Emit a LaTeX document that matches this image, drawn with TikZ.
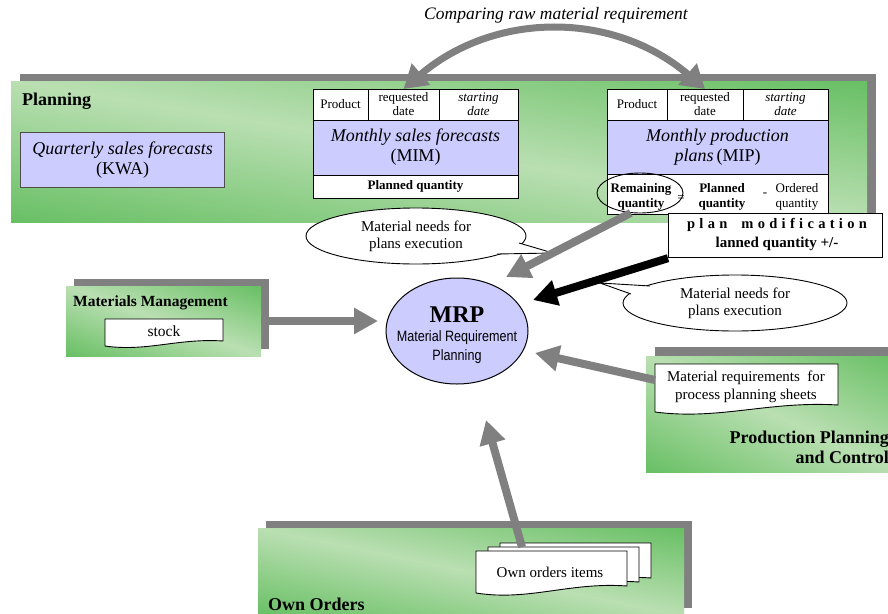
\documentclass[tikz,border=0pt]{standalone}
\usepackage{fontspec}
\setmainfont{Liberation Serif}
\newfontfamily\arialf{Liberation Sans}
\usetikzlibrary{arrows.meta,shapes.geometric,calc}

\definecolor{shadegray}{RGB}{128,128,128}
\definecolor{lav}{RGB}{204,204,255}

% green panel fill: light along the top-left/bottom-right diagonal,
% deeper green towards the bottom-left and top-right corners
\pgfdeclarefunctionalshading{gpanel}{\pgfpointorigin}{\pgfpoint{100bp}{100bp}}{}{%
  add 100 sub 50 div abs dup 1 gt {pop 1} if
  dup -0.322 mul 0.729 add exch
  dup -0.125 mul 0.875 add exch
  -0.306 mul 0.698 add }

% wavy-bottom document outline around a named node; #2 = rise of the right corner
\newcommand\docshape[2]{%
  \draw[docline] (#1.north west) -- (#1.north east) -- ([yshift=#2]#1.south east)
    .. controls ($(#1.south west)!0.62!(#1.south east)+(0pt,1.6*#2)$)
       and ($(#1.south west)!0.35!(#1.south east)+(0pt,-1.2*#2)$) .. (#1.south west) -- cycle;}
\newcommand\ls{\kern4.3pt}

\begin{document}
\begin{tikzpicture}[x=1pt,y=-1pt,
  panel/.style={anchor=north west, inner sep=0pt, outer sep=0pt,
    shade, shading=gpanel, shading angle=0},
  cell/.style={draw=black, line width=0.8pt, fill=white, inner sep=1pt, outer sep=0pt,
    anchor=north west, align=center, font=\fontsize{13}{14}\selectfont},
  bigtxt/.style={font=\fontsize{18}{20}\selectfont},
  docbox/.style={anchor=north west, inner sep=0pt, outer sep=0pt},
  docline/.style={draw=black, line width=0.9pt, fill=white},
  bubble/.style={ellipse, draw=black, line width=0.9pt, fill=white, inner sep=0pt,
    align=center, font=\fontsize{15}{17}\selectfont},
  garrow/.style={draw=shadegray, line width=8pt, -{Triangle[length=24pt,width=25pt]}},
  barrow/.style={draw=black, line width=8pt, -{Triangle[length=24pt,width=25pt]}},
  carrow/.style={draw=shadegray, line width=7pt,
    {Triangle[length=23pt,width=27pt]}-{Triangle[length=23pt,width=27pt]}},
  paneltitle/.style={inner sep=0pt, font=\bfseries\fontsize{18}{20}\selectfont}
]
\useasboundingbox (0,0) rectangle (888,613);
\clip (0,0) rectangle (888,613);

% ---------- panel shadows ----------
\fill[shadegray] (20,74) rectangle (876,215);
\fill[shadegray] (74,279) rectangle (269,349);
\fill[shadegray] (655,347) rectangle (909,463);
\fill[shadegray] (266,521) rectangle (692,608);

% ---------- panels ----------
\node[panel, minimum width=856pt, minimum height=141pt] (planning) at (11,81) {};
\node[panel, minimum width=195pt, minimum height=70pt] (mm) at (66,286) {};
\node[panel, minimum width=254pt, minimum height=116pt] (ppc) at (646,356) {};
\node[panel, minimum width=426pt, minimum height=88pt] (own) at (258,528) {};

\node[paneltitle, anchor=base west] (tplan) at (22,105) {Planning};
\node[inner sep=0pt, font=\bfseries\fontsize{15.5}{17}\selectfont, anchor=base west] (tmm) at (73,306) {Materials Management};
\node[paneltitle, anchor=base east] (tppc1) at (889,443) {Production Planning};
\node[paneltitle, anchor=base east] (tppc2) at (889,463) {and Control};
\node[paneltitle, anchor=base west] (town) at (268,610) {Own Orders};

% ---------- quarterly forecasts ----------
\node[draw=black!70, line width=1.3pt, fill=lav, anchor=north west, minimum width=204pt,
  minimum height=55pt, align=center, bigtxt] (kwa) at (20,132)
  {\textit{Quarterly sales forecasts}\\(KWA)};

% ---------- monthly sales forecasts table ----------
\node[cell, minimum width=55pt, minimum height=31pt] (mimP) at (313,89) {Product};
\node[cell, minimum width=71pt, minimum height=31pt] (mimR) at (368,89) {requested\\date};
\node[cell, minimum width=79pt, minimum height=31pt] (mimS) at (439,89) {\textit{starting}\\\textit{date}};
\node[cell, fill=lav, minimum width=205pt, minimum height=55pt, bigtxt] (mim) at (313,120)
  {\textit{Monthly sales forecasts}\\(MIM)};
\node[cell, minimum width=205pt, minimum height=23pt, font=\bfseries\fontsize{13}{14}\selectfont] (mimQ) at (313,175) {Planned quantity};

% ---------- monthly production plans table ----------
\node[cell, minimum width=60pt, minimum height=31pt] (mipP) at (607,89) {Product};
\node[cell, minimum width=76pt, minimum height=31pt] (mipR) at (667,89) {requested\\date};
\node[cell, minimum width=85pt, minimum height=31pt] (mipS) at (743,89) {\textit{starting}\\\textit{date}};
\node[cell, fill=lav, minimum width=221pt, minimum height=54pt, bigtxt] (mip) at (607,120)
  {\textit{Monthly production}\\\textit{plans}\,(MIP)};
\node[cell, minimum width=221pt, minimum height=40pt] (mipQ) at (607,174) {};

\node[font=\bfseries\fontsize{13}{15}\selectfont, align=center] (remq) at (641,197) {Remaining\\quantity};
\node[font=\fontsize{13}{15}\selectfont] (eqs) at (681,199) {=};
\node[font=\bfseries\fontsize{13}{15}\selectfont, align=center] (plq) at (722,197) {Planned\\quantity};
\node[font=\fontsize{13}{15}\selectfont] (mns) at (765,195) {-};
\node[font=\fontsize{13}{15}\selectfont, align=center] (ordq) at (797,197) {Ordered\\quantity};
\node[ellipse, draw=black, line width=0.9pt, minimum width=86pt, minimum height=40pt, inner sep=0pt] (remell) at (640,193) {};

% ---------- plan modification ----------
\node[draw=black, fill=white, line width=1.2pt, anchor=north west, minimum width=214pt,
  minimum height=44pt, inner sep=0pt] (pm) at (668,213) {};
\node[font=\bfseries\fontsize{14.5}{16}\selectfont] (pm1) at (777,225)
  {p\ls l\ls a\ls n\hspace{14pt}m\ls o\ls d\ls i\ls f\ls i\ls c\ls a\ls t\ls i\ls o\ls n};
\node[font=\bfseries\fontsize{15}{17}\selectfont] (pm2) at (777,244) {lanned quantity +/-};

% ---------- callouts ----------
\node[bubble, minimum width=220pt, minimum height=56pt] (need1) at (416,236) {Material needs for\\plans execution};
\fill[white] (519,243) -- (553,253) -- (497,254) -- cycle;
\draw[line width=0.9pt] (519,243) -- (553,253) -- (497,254);

\node[bubble, minimum width=224pt, minimum height=56pt] (need2) at (735,303) {Material needs for\\plans execution};
\fill[white] (650,286) -- (600,283) -- (631,294) -- cycle;
\draw[line width=0.9pt] (650,286) -- (600,283) -- (631,294);

% ---------- MRP ----------
\node[ellipse, draw=black, fill=lav, line width=1pt, minimum width=142pt, minimum height=106pt, inner sep=0pt] (mrp) at (457,331) {};
\node[font=\bfseries\fontsize{24}{26}\selectfont] (mrpt) at (457,315) {MRP};
\node[font=\arialf\fontsize{15}{19}\selectfont, align=center] (mrps) at (457,347)
  {\scalebox{0.84}[1]{Material Requirement}\\\scalebox{0.84}[1]{Planning}};

% ---------- documents ----------
\node[docbox, minimum width=118pt, minimum height=27pt] (stock) at (105,319) {};
\docshape{stock}{5pt}
\node[font=\fontsize{15.5}{17}\selectfont] (stockt) at (164,331) {stock};

\node[docbox, minimum width=183pt, minimum height=48pt] (mreq) at (655,364) {};
\docshape{mreq}{7pt}
\node[font=\fontsize{15}{18}\selectfont, align=center] (mreqt) at (746,387) {Material requirements\ \ for\\process planning sheets};

\node[docbox, minimum width=151pt, minimum height=42pt] (oi3) at (500,543) {};
\docshape{oi3}{7pt}
\node[docbox, minimum width=151pt, minimum height=42pt] (oi2) at (488,547) {};
\docshape{oi2}{7pt}
\node[docbox, minimum width=151pt, minimum height=42pt] (oi1) at (476,551) {};
\docshape{oi1}{7pt}
\node[font=\fontsize{15}{17}\selectfont] (oit) at (550,572) {Own orders items};

% ---------- connectors ----------
\coordinate (tipA) at (506,277);
\coordinate (tipB) at (533,300);
\coordinate (tipC) at (378,321);
\coordinate (tipD) at (535,353);
\coordinate (tipE) at (486,420);
\coordinate (oiout) at (522,547);

\draw[garrow] (remell.245) -- (tipA);
\draw[barrow] (pm.south west) -- (tipB);
\draw[garrow] (mm.east) -- (tipC);
\draw[garrow] ([yshift=8pt]mreq.west) -- (tipD);
\draw[garrow] (oiout) -- (tipE);

\draw[carrow] (mimR.north) .. controls (495,11) and (614,11) .. (mipR.north);
\node[font=\itshape\fontsize{17.5}{20}\selectfont] (cmp) at (556,15) {Comparing raw material requirement};

\end{tikzpicture}
\end{document}
